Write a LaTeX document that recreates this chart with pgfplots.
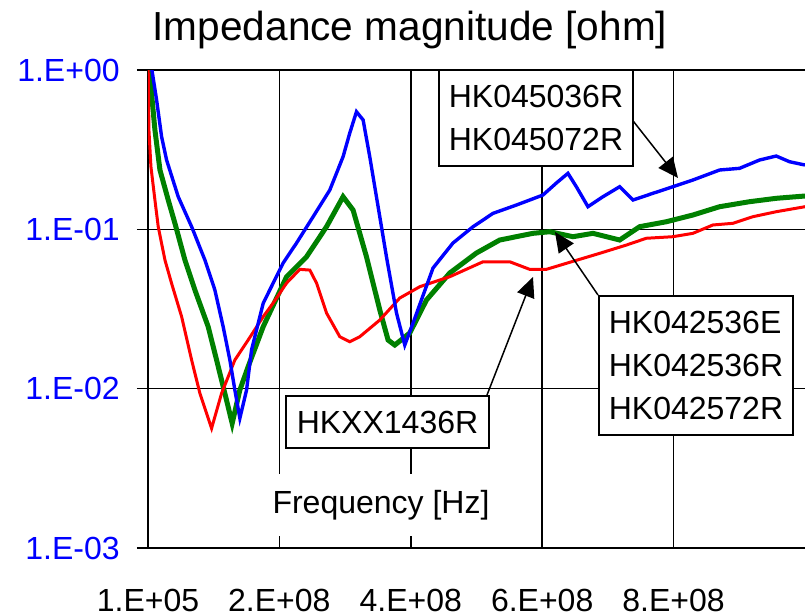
\documentclass[border=0pt]{standalone}
\usepackage{fontspec}
\setmainfont{Liberation Sans}
\usepackage{pgfplots}
\pgfplotsset{compat=1.18}
\usetikzlibrary{arrows.meta,calc}

\definecolor{zblue}{RGB}{0,0,255}
\definecolor{zgreen}{RGB}{0,128,0}
\definecolor{zred}{RGB}{255,0,0}

\begin{document}
\begin{tikzpicture}
\begin{axis}[
    name=ax,
    scale only axis,
    width=328.5pt, height=239pt,
    xmin=1e5, xmax=1e9,
    ymode=log, ymin=1e-3, ymax=1,
    xtick={1e5,2e8,4e8,6e8,8e8},
    xticklabels={1.E+05,2.E+08,4.E+08,6.E+08,8.E+08},
    ytick={1e-3,1e-2,1e-1,1},
    yticklabels={1.E-03,1.E-02,1.E-01,1.E+00},
    yminorticks=false,
    scaled x ticks=false,
    grid=major,
    grid style={black, line width=0.75pt},
    axis x line*=bottom,
    axis y line*=left,
    axis line style={line width=1pt, -},
    tick align=outside,
    major tick length=5.5pt,
    xtick style={draw=none},
    ytick style={black, line width=0.75pt},
    tick label style={font=\fontsize{16}{19}\selectfont},
    xticklabel style={anchor=center, yshift=-20.5pt},
    yticklabel style={text=zblue, anchor=east, inner sep=0pt, xshift=-8.5pt},
]
% HK042536E / HK042536R / HK042572R
\addplot[zgreen, line width=2.5pt] coordinates {
    (3e6,1.15) (4.56e6,0.7857) (1.065e7,0.4201) (1.83e7,0.2357) (3.09e7,0.1528)
    (4.11e7,0.1091) (5.63e7,0.0642) (7.15e7,0.0416) (9.17e7,0.02449)
    (1.045e8,0.01513) (1.171e8,0.00935) (1.282e8,0.00606) (1.399e8,0.00981)
    (1.525e8,0.01373) (1.754e8,0.02449) (2.110e8,0.0504) (2.414e8,0.0673)
    (2.718e8,0.1039) (2.970e8,0.1602) (3.122e8,0.1322) (3.326e8,0.0673)
    (3.529e8,0.03116) (3.655e8,0.02020) (3.757e8,0.01879) (3.985e8,0.02235)
    (4.239e8,0.0360) (4.593e8,0.0532) (4.999e8,0.0710) (5.354e8,0.0857)
    (5.860e8,0.0944) (6.114e8,0.0966) (6.468e8,0.0899) (6.773e8,0.0944)
    (7.179e8,0.0857) (7.483e8,0.1039) (7.889e8,0.1116) (8.294e8,0.1230)
    (8.700e8,0.1387) (9.156e8,0.1491) (9.562e8,0.1566) (1e9,0.1619)
};
% HKXX1436R
\addplot[zred, line width=1.5pt] coordinates {
    (1e5,1.3) (1.52e6,0.4201) (4.56e6,0.2472) (1.065e7,0.1528) (1.567e7,0.1039)
    (2.59e7,0.0642) (3.6e7,0.0458) (5.13e7,0.02829) (6.65e7,0.01513)
    (7.91e7,0.00935) (9.69e7,0.00564) (1.121e8,0.00935) (1.323e8,0.01513)
    (1.525e8,0.02020) (1.754e8,0.02829) (1.906e8,0.03448) (2.110e8,0.0460)
    (2.312e8,0.0561) (2.464e8,0.0555) (2.566e8,0.0460) (2.718e8,0.02985)
    (2.920e8,0.02119) (3.072e8,0.01971) (3.224e8,0.02119) (3.529e8,0.02698)
    (3.833e8,0.03707) (4.137e8,0.04363) (4.593e8,0.0504) (5.100e8,0.0626)
    (5.506e8,0.0626) (5.810e8,0.0561) (6.064e8,0.0561) (6.368e8,0.0612)
    (6.875e8,0.0707) (7.281e8,0.0797) (7.585e8,0.0879) (7.989e8,0.0899)
    (8.294e8,0.0944) (8.598e8,0.1065) (8.902e8,0.1091) (9.206e8,0.1200)
    (9.562e8,0.1290) (1e9,0.1387)
};
% HK045036R / HK045072R
\addplot[zblue, line width=1.7pt] coordinates {
    (3e6,1.2) (6.08e6,1.0) (1.32e7,0.648) (2.08e7,0.3814) (2.84e7,0.2723)
    (4.61e7,0.1602) (6.65e7,0.1039) (8.67e7,0.0642) (1.019e8,0.0416)
    (1.145e8,0.02449) (1.247e8,0.01513) (1.323e8,0.00981) (1.399e8,0.00652)
    (1.501e8,0.00981) (1.577e8,0.01748) (1.754e8,0.03432) (1.906e8,0.0460)
    (2.058e8,0.0615) (2.262e8,0.0821) (2.514e8,0.1200) (2.768e8,0.1765)
    (2.970e8,0.2857) (3.072e8,0.4023) (3.174e8,0.5473) (3.275e8,0.4856)
    (3.376e8,0.2857) (3.503e8,0.1387) (3.630e8,0.0673) (3.783e8,0.02985)
    (3.909e8,0.01879) (4.035e8,0.02583) (4.339e8,0.0572) (4.643e8,0.0821)
    (4.948e8,0.1039) (5.252e8,0.1260) (5.608e8,0.1421) (6.012e8,0.1642)
    (6.216e8,0.1953) (6.392e8,0.2247) (6.520e8,0.1852) (6.697e8,0.1387)
    (6.925e8,0.1602) (7.179e8,0.1852) (7.381e8,0.1528) (7.685e8,0.1683)
    (7.989e8,0.1852) (8.294e8,0.2040) (8.700e8,0.2357) (9.004e8,0.2415)
    (9.308e8,0.2723) (9.562e8,0.2885) (9.764e8,0.2657) (1e9,0.2533)
};
\end{axis}

% overlay in reference pixel units (origin top left, y down)
\begin{scope}[shift={($(ax.north west)+(-74pt,35pt)$)}, x=0.5pt, y=-0.5pt,
    box/.style={draw=black, fill=white, line width=1pt, align=left, inner sep=0pt,
        font=\fontsize{16}{21.5}\selectfont},
    arr/.style={line width=0.75pt, -{Triangle[length=10pt, width=9pt]}}]
  \node[font=\fontsize{20.3}{24}\selectfont] at (410,30) {Impedance magnitude [ohm]};
  \node[fill=white, inner xsep=4pt, inner ysep=8pt, font=\fontsize{16}{19}\selectfont]
      at (381,505) {Frequency [Hz]};
  \draw[arr] (630,117) -- (678,178);
  \draw[arr] (598,295) -- (555,232);
  \draw[arr] (487,395) -- (533,277);
  \node[box, minimum width=97pt, minimum height=48pt] at (536,118)
      {HK045036R\\HK045072R};
  \node[box, minimum width=97pt, minimum height=69.5pt] at (696,365.5)
      {HK042536E\\HK042536R\\HK042572R};
  \node[box, minimum width=101.5pt, minimum height=26pt] at (387.5,422)
      {HKXX1436R};
  \pgfresetboundingbox
  \path (0,0) rectangle (805,616);
\end{scope}
\end{tikzpicture}
\end{document}
